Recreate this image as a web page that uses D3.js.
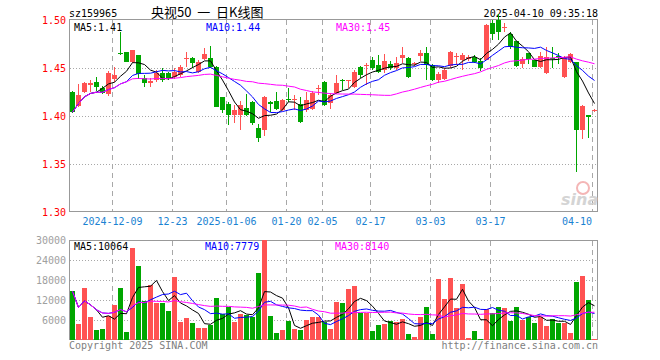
<!DOCTYPE html>
<html>
<head>
<meta charset="utf-8">
<script src="https://cdn.jsdelivr.net/npm/d3@7"></script>
<style>
  body { margin: 0; background: #fff; }
  text { font-family: "DejaVu Sans Mono", monospace; font-size: 10px; }
</style>
</head>
<body>
<div id="chart"></div>
<script>
const dates = [
  "2024-11-28", "2024-11-29", "2024-12-02", "2024-12-03", "2024-12-04", "2024-12-05", "2024-12-06", "2024-12-09", "2024-12-10", "2024-12-11",
  "2024-12-12", "2024-12-13", "2024-12-16", "2024-12-17", "2024-12-18", "2024-12-19", "2024-12-20", "2024-12-23", "2024-12-24", "2024-12-25",
  "2024-12-26", "2024-12-27", "2024-12-30", "2024-12-31", "2025-01-02", "2025-01-03", "2025-01-06", "2025-01-07", "2025-01-08", "2025-01-09",
  "2025-01-10", "2025-01-13", "2025-01-14", "2025-01-15", "2025-01-16", "2025-01-17", "2025-01-20", "2025-01-21", "2025-01-22", "2025-01-23",
  "2025-01-24", "2025-01-27", "2025-02-05", "2025-02-06", "2025-02-07", "2025-02-10", "2025-02-11", "2025-02-12", "2025-02-13", "2025-02-14",
  "2025-02-17", "2025-02-18", "2025-02-19", "2025-02-20", "2025-02-21", "2025-02-24", "2025-02-25", "2025-02-26", "2025-02-27", "2025-02-28",
  "2025-03-03", "2025-03-04", "2025-03-05", "2025-03-06", "2025-03-07", "2025-03-10", "2025-03-11", "2025-03-12", "2025-03-13", "2025-03-14",
  "2025-03-17", "2025-03-18", "2025-03-19", "2025-03-20", "2025-03-21", "2025-03-24", "2025-03-25", "2025-03-26", "2025-03-27", "2025-03-28",
  "2025-03-31", "2025-04-01", "2025-04-02", "2025-04-03", "2025-04-07", "2025-04-08", "2025-04-09", "2025-04-10"
];

const openPrices = [
  1.425, 1.410, 1.425, 1.432, 1.435, 1.429, 1.423, 1.439, 1.466, 1.467,
  1.456, 1.464, 1.440, 1.434, 1.438, 1.445, 1.445, 1.441, 1.443, 1.459,
  1.460, 1.446, 1.459, 1.460, 1.451, 1.420, 1.413, 1.401, 1.401, 1.408,
  1.415, 1.387, 1.385, 1.415, 1.416, 1.406, 1.418, 1.417, 1.413, 1.406,
  1.407, 1.428, 1.435, 1.414, 1.424, 1.437, 1.436, 1.430, 1.451, 1.452,
  1.458, 1.453, 1.448, 1.454, 1.450, 1.460, 1.460, 1.454, 1.463, 1.466,
  1.453, 1.438, 1.439, 1.452, 1.461, 1.458, 1.459, 1.461, 1.457, 1.458,
  1.497, 1.500, 1.492, 1.485, 1.478, 1.454, 1.466, 1.458, 1.451, 1.445,
  1.460, 1.462, 1.441, 1.456, 1.456, 1.385, 1.401, 1.405
];

const highPrices = [
  1.426, 1.433, 1.435, 1.437, 1.441, 1.431, 1.447, 1.451, 1.487, 1.467,
  1.469, 1.464, 1.443, 1.440, 1.448, 1.450, 1.446, 1.450, 1.453, 1.467,
  1.461, 1.458, 1.471, 1.473, 1.452, 1.420, 1.415, 1.411, 1.416, 1.423,
  1.416, 1.392, 1.421, 1.416, 1.425, 1.418, 1.429, 1.422, 1.420, 1.425,
  1.426, 1.432, 1.436, 1.424, 1.443, 1.439, 1.437, 1.448, 1.452, 1.455,
  1.461, 1.464, 1.465, 1.457, 1.461, 1.472, 1.461, 1.456, 1.469, 1.472,
  1.454, 1.446, 1.450, 1.468, 1.466, 1.466, 1.464, 1.464, 1.460, 1.496,
  1.500, 1.506, 1.497, 1.488, 1.478, 1.461, 1.466, 1.458, 1.467, 1.472,
  1.472, 1.466, 1.463, 1.466, 1.456, 1.411, 1.401, 1.407
];

const lowPrices = [
  1.403, 1.409, 1.424, 1.425, 1.426, 1.423, 1.421, 1.435, 1.464, 1.456,
  1.455, 1.439, 1.430, 1.430, 1.435, 1.435, 1.438, 1.439, 1.441, 1.451,
  1.450, 1.445, 1.458, 1.450, 1.409, 1.403, 1.391, 1.393, 1.385, 1.400,
  1.391, 1.373, 1.379, 1.404, 1.406, 1.405, 1.415, 1.406, 1.393, 1.404,
  1.406, 1.422, 1.410, 1.407, 1.423, 1.427, 1.429, 1.429, 1.440, 1.432,
  1.448, 1.445, 1.445, 1.448, 1.448, 1.455, 1.440, 1.452, 1.457, 1.438,
  1.436, 1.434, 1.437, 1.450, 1.453, 1.448, 1.457, 1.455, 1.447, 1.458,
  1.479, 1.479, 1.487, 1.470, 1.451, 1.450, 1.454, 1.451, 1.450, 1.444,
  1.450, 1.454, 1.440, 1.455, 1.342, 1.376, 1.377, 1.404
];

const closePrices = [
  1.404, 1.422, 1.434, 1.434, 1.430, 1.424, 1.445, 1.443, 1.465, 1.456,
  1.469, 1.444, 1.434, 1.436, 1.445, 1.438, 1.440, 1.446, 1.451, 1.460,
  1.455, 1.456, 1.465, 1.451, 1.409, 1.406, 1.401, 1.406, 1.411, 1.401,
  1.393, 1.377, 1.420, 1.413, 1.407, 1.417, 1.417, 1.418, 1.394, 1.417,
  1.424, 1.429, 1.411, 1.422, 1.434, 1.436, 1.437, 1.446, 1.443, 1.453,
  1.450, 1.446, 1.457, 1.450, 1.455, 1.464, 1.441, 1.455, 1.466, 1.453,
  1.438, 1.444, 1.448, 1.467, 1.462, 1.464, 1.461, 1.456, 1.450, 1.495,
  1.485, 1.488, 1.493, 1.472, 1.452, 1.459, 1.459, 1.451, 1.463, 1.461,
  1.459, 1.461, 1.461, 1.465, 1.385, 1.410, 1.399, 1.406
];

const volumes = [
  14600, 4900, 15700, 7000, 3100, 3400, 7200, 10600, 15700, 2500,
  27700, 22300, 11600, 16600, 11100, 11100, 8800, 19000, 5500, 6700,
  5100, 3500, 3700, 4600, 12700, 7900, 10000, 5500, 7900, 7600,
  6900, 20200, 30000, 7300, 2200, 3100, 5800, 3400, 3100, 6100,
  6800, 7000, 5300, 3400, 11500, 11200, 15400, 16300, 8100, 8100,
  2800, 4600, 4900, 5800, 5500, 6400, 1900, 1000, 7000, 10000,
  1900, 18400, 12400, 18700, 9700, 16900, 700, 2800, 400, 9400,
  8100, 10000, 9700, 5800, 10000, 6100, 7000, 5200, 7000, 4300,
  6400, 5200, 5200, 2200, 17500, 19300, 11900, 400
];

const priceTicks = [1.30, 1.35, 1.40, 1.45, 1.50];
const volumeTicks = [6000, 12000, 18000, 24000, 30000];
const dateTicks = ["2024-12-09", "2024-12-23", "2025-01-06", "2025-01-20", "2025-02-05", "2025-02-17", "2025-03-03", "2025-03-17", "2025-04-10"];
const dateTickLabels = ["2024-12-09", "12-23", "2025-01-06", "01-20", "02-05", "02-17", "03-03", "03-17", "04-10"];
const priceLegend = ["MA5:1.41", "MA10:1.44", "MA30:1.45"];
const volumeLegend = ["MA5:10064", "MA10:7779", "MA30:8140"];
const maPeriods = [5, 10, 30];
const maColors = ["#000000", "#0000ff", "#ff00ff"];

const upColor = "#ff5252";
const downColor = "#00a600";
const gridColor = "#a8a8a8";

const svg = d3
  .select("#chart")
  .append("svg")
  .attr("width", 660)
  .attr("height", 360);

const x = d3.scaleBand().domain(dates).range([70, 598]);
const yPrice = d3.scaleLinear().domain([1.30, 1.50]).range([212, 20]);
const yVol = d3.scaleLinear().domain([0, 30000]).range([340, 240]);

function movingAverage(values, n) {
  return values.map((v, i) => d3.mean(values.slice(Math.max(0, i - n + 1), i + 1)));
}

function drawPanel(top, bottom) {
  // vertical dashed date lines
  dateTicks.forEach((d) => {
    svg
      .append("line")
      .attr("x1", x(d) + 0.5)
      .attr("x2", x(d) + 0.5)
      .attr("y1", top)
      .attr("y2", bottom)
      .attr("stroke", gridColor)
      .attr("stroke-dasharray", "5,4")
      .attr("shape-rendering", "crispEdges");
  });
  svg
    .append("rect")
    .attr("x", 69.5)
    .attr("y", top - 0.5)
    .attr("width", 528)
    .attr("height", bottom - top)
    .attr("fill", "none")
    .attr("stroke", "#999")
    .attr("stroke-width", 1.5)
    .attr("shape-rendering", "crispEdges");
}

// ---- header ----
svg.append("text").attr("x", 69).attr("y", 17).text("sz159965");
svg
  .append("text")
  .attr("x", 151)
  .attr("y", 17)
  .style("font-family", "'Noto Sans CJK SC', sans-serif")
  .style("font-size", "13px")
  .style("white-space", "pre")
  .text("央视50  一  日K线图");
svg.append("text").attr("x", 598).attr("y", 17).attr("text-anchor", "end").text("2025-04-10 09:35:18");

// ---- price panel ----
priceTicks.slice(1, -1).forEach((t) => {
  svg
    .append("line")
    .attr("x1", 70)
    .attr("x2", 598)
    .attr("y1", Math.round(yPrice(t)) + 0.5)
    .attr("y2", Math.round(yPrice(t)) + 0.5)
    .attr("stroke", gridColor)
    .attr("stroke-dasharray", "1,2");
});
drawPanel(20, 212);

priceTicks.forEach((t) => {
  svg
    .append("text")
    .attr("x", 66)
    .attr("y", yPrice(t) + 4)
    .attr("text-anchor", "end")
    .attr("fill", "#ff0000")
    .text(t.toFixed(2));
});

dateTicks.forEach((d, i) => {
  let last = i === dateTicks.length - 1;
  svg
    .append("text")
    .attr("x", last ? x(d) : x(d) + 0.5)
    .attr("y", 225)
    .attr("text-anchor", last ? "end" : "middle")
    .attr("fill", "#1a82d2")
    .text(dateTickLabels[i]);
});

// candles
const candles = svg.append("g");
dates.forEach((d, i) => {
  const o = openPrices[i], c = closePrices[i];
  const color = c >= o ? upColor : downColor;
  candles
    .append("line")
    .attr("x1", x(d) + 2.5)
    .attr("x2", x(d) + 2.5)
    .attr("y1", yPrice(highPrices[i]))
    .attr("y2", yPrice(lowPrices[i]))
    .attr("stroke", color)
    .attr("shape-rendering", "crispEdges");
  const yTop = yPrice(Math.max(o, c));
  candles
    .append("rect")
    .attr("x", x(d))
    .attr("y", yTop)
    .attr("width", 5)
    .attr("height", Math.max(1, yPrice(Math.min(o, c)) - yTop))
    .attr("fill", color)
    .attr("shape-rendering", "crispEdges");
});

let priceLine = d3
  .line()
  .x((d, i) => x(dates[i]) + 2.5)
  .y((d) => yPrice(d));

maPeriods.forEach((n, k) => {
  svg
    .append("path")
    .datum(movingAverage(closePrices, n))
    .attr("d", priceLine)
    .attr("fill", "none")
    .attr("stroke", maColors[k])
    .attr("stroke-width", 1);
});

// sina watermark
svg
  .append("circle")
  .attr("cx", 583)
  .attr("cy", 188)
  .attr("r", 6)
  .attr("fill", "none")
  .attr("stroke", "#f4b6b6")
  .attr("stroke-width", 2);
svg
  .append("text")
  .attr("x", 561)
  .attr("y", 205)
  .style("font-family", "'DejaVu Sans', sans-serif")
  .style("font-size", "16px")
  .style("font-style", "italic")
  .style("font-weight", "bold")
  .attr("fill", "#d4d4d4")
  .text("sina");

priceLegend.forEach((t, k) => {
  svg
    .append("text")
    .attr("x", [74, 206, 336][k])
    .attr("y", 31)
    .attr("fill", maColors[k])
    .text(t);
});

// ---- volume panel ----
volumeTicks.slice(0, -1).forEach((t) => {
  svg
    .append("line")
    .attr("x1", 70)
    .attr("x2", 598)
    .attr("y1", Math.round(yVol(t)) + 0.5)
    .attr("y2", Math.round(yVol(t)) + 0.5)
    .attr("stroke", gridColor)
    .attr("stroke-dasharray", "1,2");
});
drawPanel(241, 340);

volumeTicks.forEach((t) => {
  svg
    .append("text")
    .attr("x", 66)
    .attr("y", yVol(t) + 4)
    .attr("text-anchor", "end")
    .attr("fill", "#a0a0a0")
    .text(t);
});

dates.forEach((d, i) => {
  svg
    .append("rect")
    .attr("x", x(d))
    .attr("y", yVol(volumes[i]))
    .attr("width", 5)
    .attr("height", yVol(0) - yVol(volumes[i]))
    .attr("fill", closePrices[i] >= openPrices[i] ? upColor : downColor)
    .attr("shape-rendering", "crispEdges");
});

let volLine = d3
  .line()
  .x((d, i) => x(dates[i]) + 2.5)
  .y((d) => yVol(d));

maPeriods.forEach((n, k) => {
  svg
    .append("path")
    .datum(movingAverage(volumes, n))
    .attr("d", volLine)
    .attr("fill", "none")
    .attr("stroke", maColors[k])
    .attr("stroke-width", 1);
});

volumeLegend.forEach((t, k) => {
  svg
    .append("text")
    .attr("x", [74, 205, 335][k])
    .attr("y", 250)
    .attr("fill", maColors[k])
    .text(t);
});

// footer
svg.append("text").attr("x", 69).attr("y", 349).attr("fill", "#808080").text("Copyright 2025 SINA.COM");
svg.append("text").attr("x", 598).attr("y", 349).attr("text-anchor", "end").attr("fill", "#808080").text("http://finance.sina.com.cn");
</script>
</body>
</html>
